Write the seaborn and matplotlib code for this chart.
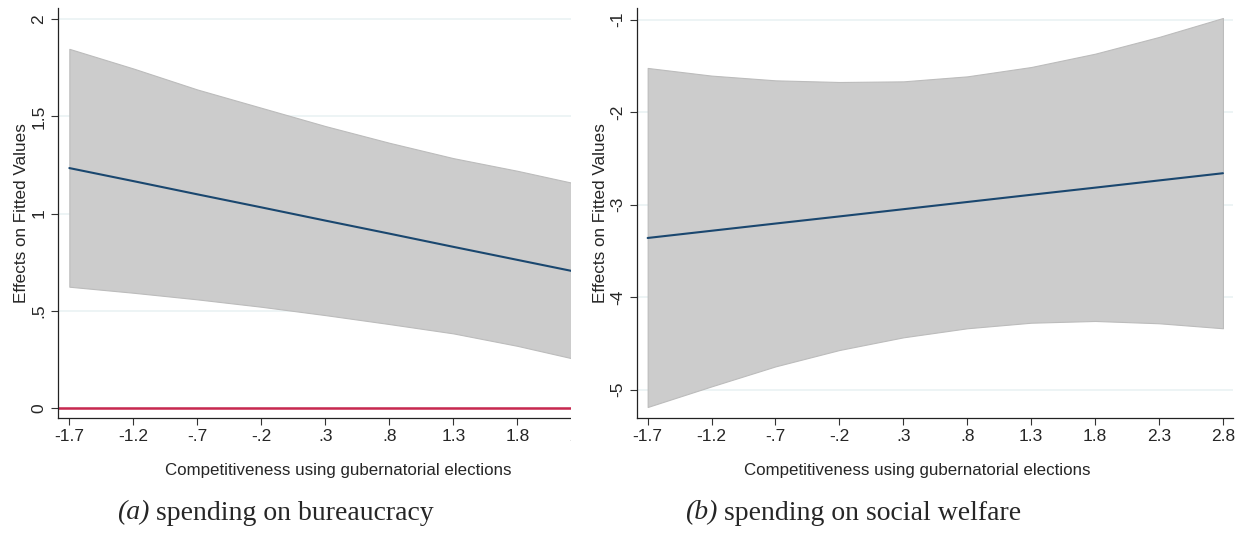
import numpy as np
import pandas as pd
import seaborn as sns
import matplotlib.pyplot as plt
from matplotlib.patches import Rectangle

# values
comp_a = [-1.7, -1.2, -0.7, -0.2, 0.3, 0.8, 1.3, 1.8, 2.3]
fit_a = [1.234, 1.167, 1.099, 1.032, 0.964, 0.897, 0.829, 0.762, 0.695]
upper_a = [1.847, 1.746, 1.638, 1.544, 1.450, 1.364, 1.285, 1.220, 1.148]
lower_a = [0.624, 0.593, 0.559, 0.521, 0.478, 0.432, 0.384, 0.320, 0.245]

comp_b = [-1.7, -1.2, -0.7, -0.2, 0.3, 0.8, 1.3, 1.8, 2.3, 2.8]
fit_b = [-3.36, -3.282, -3.204, -3.127, -3.049, -2.971, -2.893, -2.816, -2.738, -2.66]
upper_b = [-1.522, -1.605, -1.656, -1.674, -1.667, -1.613, -1.512, -1.368, -1.187, -0.982]
lower_b = [-5.187, -4.964, -4.748, -4.571, -4.434, -4.336, -4.276, -4.257, -4.282, -4.336]

xticks_a = [-1.7, -1.2, -0.7, -0.2, 0.3, 0.8, 1.3, 1.8, 2.3]
xlabels_a = ['-1.7', '-1.2', '-.7', '-.2', '.3', '.8', '1.3', '1.8', '2.3']
xticks_b = [-1.7, -1.2, -0.7, -0.2, 0.3, 0.8, 1.3, 1.8, 2.3, 2.8]
xlabels_b = ['-1.7', '-1.2', '-.7', '-.2', '.3', '.8', '1.3', '1.8', '2.3', '2.8']
yticks_a = [0, 0.5, 1, 1.5, 2]
ylabels_a = ['0', '.5', '1', '1.5', '2']
yticks_b = [-5, -4, -3, -2, -1]
ylabels_b = ['-5', '-4', '-3', '-2', '-1']

df_a = pd.DataFrame({'x': comp_a, 'fit': fit_a, 'lo': lower_a, 'hi': upper_a})
df_b = pd.DataFrame({'x': comp_b, 'fit': fit_b, 'lo': lower_b, 'hi': upper_b})

sns.set_style('ticks')
plt.rcParams['font.family'] = ['Liberation Sans', 'DejaVu Sans']

W, H = 1251, 534
fig = plt.figure(figsize=(W / 100, H / 100), dpi=100)
# left panel runs a little past the crop edge (570 px); the overhang is masked below
ax1 = fig.add_axes([58.2 / W, 1 - 418 / H, (588 - 58.2) / W, 410 / H])
ax2 = fig.add_axes([637.3 / W, 1 - 418 / H, (1233.3 - 637.3) / W, 410 / H])

band = '#cccccc'
navy = '#1a476f'
grid = '#eaf2f3'

for ax, d, xt, xl, yt, yl in [(ax1, df_a, xticks_a, xlabels_a, yticks_a, ylabels_a),
                              (ax2, df_b, xticks_b, xlabels_b, yticks_b, ylabels_b)]:
    for v in yt:
        ax.axhline(v, color=grid, lw=1.2, zorder=0)
    ax.fill_between(d['x'], d['lo'], d['hi'], color=band, edgecolor='#bcbcbc', lw=0.8, zorder=1)
    sns.lineplot(data=d, x='x', y='fit', ax=ax, color=navy, lw=1.5, zorder=3)
    ax.set_xticks(xt)
    ax.set_xticklabels(xl, fontsize=12.5)
    ax.set_yticks(yt)
    ax.set_yticklabels(yl, fontsize=12.5, rotation=90, va='center')
    ax.set_xlabel('Competitiveness using gubernatorial elections', fontsize=12.2)
    ax.xaxis.label.set_va('center')
    ax.set_ylabel('Effects on Fitted Values', fontsize=12.3, labelpad=1.5)
    ax.tick_params(axis='x', length=5, width=0.8, color='#333333', pad=3)
    ax.tick_params(axis='y', length=5, width=0.8, color='#333333', pad=3.5)
    for s in ['top', 'right']:
        ax.spines[s].set_visible(False)
    for s in ['left', 'bottom']:
        ax.spines[s].set_color('#222222')
        ax.spines[s].set_linewidth(0.9)

ax1.axhline(0, color='#c8284f', lw=1.8, zorder=2)
ax1.set_xlim(-1.787, 2.352)
ax1.set_ylim(-0.051, 2.057)
ax2.set_xlim(-1.781, 2.881)
ax2.set_ylim(-5.306, -0.874)
ax1.xaxis.set_label_coords((338.7 - 58.2) / (588 - 58.2), -52 / 410)
ax2.xaxis.set_label_coords((917 - 637.3) / (1233.3 - 637.3), -52 / 410)

# mask: the left panel is cut off at its right edge, as in the reference
for x0, x1, y0, y1 in [(570.5, 590, 0, 455), (570.5, 630, 420, 455)]:
    fig.patches.append(Rectangle((x0 / W, 1 - y1 / H), (x1 - x0) / W, (y1 - y0) / H,
                                 transform=fig.transFigure, facecolor='white',
                                 edgecolor='none', zorder=10))

# captions: italic tag followed by upright text
for x0, tag, rest in [(117, '(a)', ' spending on bureaucracy'),
                      (685, '(b)', ' spending on social welfare')]:
    t = fig.text(x0 / W, 1 - 513 / H, tag, fontsize=20, style='italic',
                 family='Liberation Serif', ha='left', va='center')
    ax1.annotate(rest, xy=(1, 0.5), xycoords=t, fontsize=20, family='Liberation Serif',
                 ha='left', va='center', annotation_clip=False)

fig.savefig('out.png', dpi=100)
